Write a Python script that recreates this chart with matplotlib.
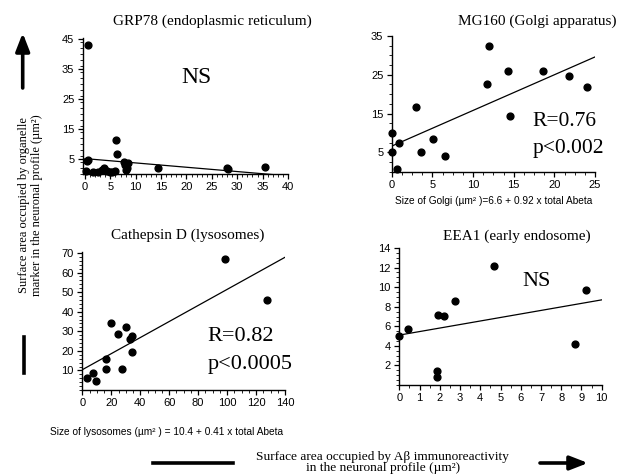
"""
Four scatter panels: organelle marker area vs. A-beta area in neurons.
"""

import matplotlib

matplotlib.use("Agg")
import matplotlib.pyplot as plt
import numpy as np
from matplotlib.ticker import MultipleLocator

# --- data ---
grp_x = [0.5, 0.3, 0.65, 0.2, 1.6, 2.5, 3.3, 3.8, 4.4, 4.9, 5.4, 6.0, 6.2, 6.4,
         7.7, 7.9, 8.0, 8.2, 8.5, 14.3, 27.9, 28.2, 35.4]
grp_y = [43.0, 4.3, 4.6, 0.8, 0.5, 0.5, 1.1, 1.7, 0.8, 0.5, 0.5, 0.8, 11.3, 6.4,
         4.0, 3.0, 1.2, 2.0, 3.5, 1.7, 1.7, 1.6, 2.3]

golgi_x = [0.0, 0.0, 0.6, 0.95, 3.0, 3.6, 5.1, 6.5, 11.7, 12.0, 14.3, 14.5,
           18.6, 21.8, 24.0]
golgi_y = [10.1, 5.0, 0.7, 7.5, 16.7, 5.0, 8.5, 4.0, 22.5, 32.5, 25.9, 14.3,
           26.1, 24.8, 21.9]

lyso_x = [3.2, 7.0, 9.2, 16.1, 16.1, 19.4, 24.7, 27.0, 30.0, 32.7, 34.0, 34.0,
          98.5, 127.3]
lyso_y = [6.0, 8.8, 4.6, 10.5, 15.6, 34.2, 28.4, 10.7, 32.0, 26.2, 27.5, 19.4,
          67.0, 46.0]

endo_x = [0.0, 0.41, 1.85, 1.85, 1.9, 2.2, 2.75, 4.7, 8.7, 9.2]
endo_y = [5.0, 5.7, 1.45, 0.8, 7.2, 7.1, 8.6, 12.2, 4.2, 9.7]

# regression lines (intercept, slope)
grp_fit = (5.0, -0.145)
golgi_fit = (6.6, 0.92)
lyso_fit = (10.4, 0.41)
endo_fit = (5.1, 0.36)

titles = [
    "GRP78 (endoplasmic reticulum)",
    "MG160 (Golgi apparatus)",
    "Cathepsin D (lysosomes)",
    "EEA1 (early endosome)",
]

SERIF = "Liberation Serif"
SANS = "Liberation Sans"
W, H = 617, 476

fig = plt.figure(figsize=(W / 100, H / 100), dpi=100)
fig.patch.set_facecolor("white")


def panel(rect_px, xs, ys, fit, xlim, ylim, xmaj, xmin, ymin, yticks):
    left, top, right, bottom = rect_px
    ax = fig.add_axes([left / W, 1 - bottom / H, (right - left) / W, (bottom - top) / H])
    ax.scatter(xs, ys, s=24, color="black", zorder=3, clip_on=False)
    xx = np.linspace(0, xlim[1], 50)
    ax.plot(xx, fit[0] + fit[1] * xx, color="black", lw=0.9)
    ax.set_xlim(*xlim)
    ax.set_ylim(*ylim)
    ax.xaxis.set_major_locator(MultipleLocator(xmaj))
    ax.xaxis.set_minor_locator(MultipleLocator(xmin))
    ax.set_yticks(yticks)
    ax.yaxis.set_minor_locator(MultipleLocator(ymin))
    for s in ["top", "right"]:
        ax.spines[s].set_visible(False)
    for s in ["left", "bottom"]:
        ax.spines[s].set_linewidth(1.0)
    ax.tick_params(which="major", length=3.5, width=0.9, pad=2.5, labelsize=8)
    ax.tick_params(which="minor", length=2, width=0.6)
    for lab in ax.get_xticklabels() + ax.get_yticklabels():
        lab.set_family(SANS)
    return ax


ax1 = panel((82.7, 38, 288, 173.5), grp_x, grp_y, grp_fit, (-0.45, 40), (0, 45.5),
            5, 1, 2, [5, 15, 25, 35, 45])
ax2 = panel((391.7, 36, 595, 171.7), golgi_x, golgi_y, golgi_fit, (0, 25), (0, 35),
            5, 1.25, 2.5, [5, 15, 25, 35])
ax3 = panel((82, 252, 285, 390), lyso_x, lyso_y, lyso_fit, (-0.3, 140), (0, 70.5),
            20, 5, 2, [10, 20, 30, 40, 50, 60, 70])
ax4 = panel((399.3, 248, 601.7, 385), endo_x, endo_y, endo_fit, (0, 10), (0, 14),
            1, 0.5, 0.5, [2, 4, 6, 8, 10, 12, 14])

# panel titles
title_pos = [(212, 21), (537, 21), (188, 235), (517, 236)]
for (tx, ty), t in zip(title_pos, titles):
    fig.text(tx / W, 1 - ty / H, t, ha="center", va="center", family=SERIF, fontsize=11)

# statistics in each panel
ax1.text(19, 30.5, "NS", family=SERIF, fontsize=17)
ax2.text(17.3, 11.7, "R=0.76", family=SERIF, fontsize=15.5)
ax2.text(17.3, 4.8, "p<0.002", family=SERIF, fontsize=15.5)
ax3.text(86.6, 25, "R=0.82", family=SERIF, fontsize=16)
ax3.text(86.6, 10.9, "p<0.0005", family=SERIF, fontsize=16)
ax4.text(6.1, 10.1, "NS", family=SERIF, fontsize=16)

# regression equations under the significant panels
fig.text(395 / W, 1 - 201 / H, "Size of Golgi (\u00b5m\u00b2 )=6.6 + 0.92 x total Abeta",
         ha="left", va="center", family=SANS, fontsize=7.3)
fig.text(50 / W, 1 - 432 / H, "Size of lysosomes (\u00b5m\u00b2 ) = 10.4 + 0.41 x total Abeta",
         ha="left", va="center", family=SANS, fontsize=7.3)

# shared axis captions with arrows
fig.text(30.5 / W, 1 - 205 / H,
         "Surface area occupied by organelle\nmarker in the neuronal profile (\u00b5m\u00b2)",
         rotation=90, ha="center", va="center", family=SERIF, fontsize=9,
         linespacing=1.15)
fig.text(383 / W, 1 - 462.5 / H,
         "Surface area occupied by A\u03b2 immunoreactivity\nin the neuronal profile (\u00b5m\u00b2)",
         ha="center", va="center", family=SERIF, fontsize=9.6, linespacing=0.95)

arrow = dict(arrowstyle="-|>,head_length=0.9,head_width=0.35", lw=2.6, color="black",
             shrinkA=0, shrinkB=0, mutation_scale=12)
fig.add_artist(matplotlib.patches.FancyArrowPatch(
    (22.7 / W, 1 - 88 / H), (22.7 / W, 1 - 33 / H), transform=fig.transFigure, **arrow))
fig.add_artist(matplotlib.patches.FancyArrowPatch(
    (540 / W, 1 - 463 / H), (588 / W, 1 - 463 / H), transform=fig.transFigure, **arrow))
fig.add_artist(matplotlib.lines.Line2D(
    [24 / W, 24 / W], [1 - 337 / H, 1 - 373 / H], transform=fig.transFigure,
    color="black", lw=2.6))
fig.add_artist(matplotlib.lines.Line2D(
    [153 / W, 233 / W], [1 - 463 / H, 1 - 463 / H], transform=fig.transFigure,
    color="black", lw=2.6))

fig.savefig("out.png", dpi=100)
plt.close(fig)
